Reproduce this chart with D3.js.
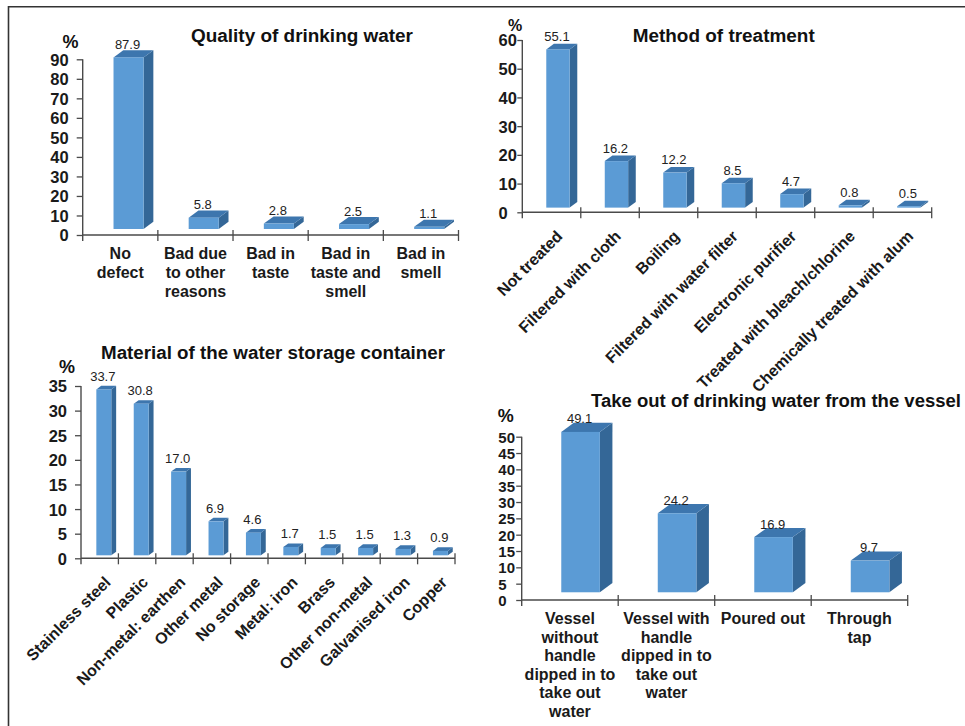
<!DOCTYPE html>
<html>
<head>
<meta charset="utf-8">
<script src="https://cdn.jsdelivr.net/npm/d3@7"></script>
<style>
  body { margin: 0; background: #fff; }
  svg { display: block; }
  text { font-family: "Liberation Sans", Arial, Helvetica, sans-serif; }
</style>
</head>
<body>
<svg id="fig" width="965" height="726"></svg>
<script>
// ---- Quality of drinking water ----
const qualityCategories = ["No\ndefect", "Bad due\nto other\nreasons", "Bad in\ntaste", "Bad in\ntaste and\nsmell", "Bad in\nsmell"];
const qualityValues = [87.9, 5.8, 2.8, 2.5, 1.1];
const qualityTicks = [0, 10, 20, 30, 40, 50, 60, 70, 80, 90];

// ---- Method of treatment ----
const treatmentCategories = ["Not treated", "Filtered with cloth", "Boiling", "Filtered with water filter",
  "Electronic purifier", "Treated with bleach/chlorine", "Chemically treated with alum"];
const treatmentValues = [55.1, 16.2, 12.2, 8.5, 4.7, 0.8, 0.5];
const treatmentTicks = [0, 10, 20, 30, 40, 50, 60];

// ---- Material of the water storage container ----
const materialCategories = ["Stainless steel", "Plastic", "Non-metal: earthen", "Other metal", "No storage",
  "Metal: iron", "Brass", "Other non-metal", "Galvanised iron", "Copper"];
const materialValues = [33.7, 30.8, 17.0, 6.9, 4.6, 1.7, 1.5, 1.5, 1.3, 0.9];
const materialTicks = [0, 5, 10, 15, 20, 25, 30, 35];

// ---- Take out of drinking water from the vessel ----
const takeOutCategories = ["Vessel\nwithout\nhandle\ndipped in to\ntake out\nwater",
  "Vessel with\nhandle\ndipped in to\ntake out\nwater", "Poured out", "Through\ntap"];
const takeOutValues = [49.1, 24.2, 16.9, 9.7];
const takeOutTicks = [0, 5, 10, 15, 20, 25, 30, 35, 40, 45, 50];

const svg = d3.select("#fig");
svg.append("rect").attr("width", 965).attr("height", 726).attr("fill", "#fff");

// outer frame (top and left edges)
svg.append("path").attr("d", "M8.5,726 V6.8 H965")
  .attr("fill", "none").attr("stroke", "#333").attr("stroke-width", 1.6);

const AXIS = "#4a4a4a";
const FRONT = "#5b9bd5", TOP = "#3d76ae", SIDE = "#346797";

const panels = [
  { title: "Quality of drinking water", categories: qualityCategories, values: qualityValues,
    ticks: qualityTicks, max: 90,
    x0: 82.7, x1: 458.5, yZero: 235, yTop: 59.3,
    titleX: 191, titleY: 41.7, titleW: 222,
    pctX: 70.5, pctY: 48, pctSize: 18,
    tickAlign: "end", tickLen: 6, tickPad: 8, tickFont: 16.5,
    labelMode: "wrap", labelY: 259.3, lineH: 18.6, labelFont: 16 },
  { title: "Method of treatment", categories: treatmentCategories, values: treatmentValues,
    ticks: treatmentTicks, max: 60,
    x0: 522.3, x1: 931.7, yZero: 212.3, yTop: 40,
    titleX: 632.7, titleY: 41.7, titleW: 182,
    pctX: 515, pctY: 31, pctSize: 16,
    tickAlign: "start", tickLeft: 498.5, tickLen: 5, tickFont: 16.5,
    labelMode: "rotate", labelFont: 16 },
  { title: "Material of the water storage container", categories: materialCategories, values: materialValues,
    ticks: materialTicks, max: 35,
    x0: 81, x1: 455, yZero: 558.3, yTop: 386,
    titleX: 101, titleY: 359.3, titleW: 344,
    pctX: 67, pctY: 373, pctSize: 18,
    tickAlign: "end", tickLen: 6, tickPad: 8, tickFont: 16.5,
    labelMode: "rotate", labelFont: 16 },
  { title: "Take out of drinking water from the vessel", categories: takeOutCategories, values: takeOutValues,
    ticks: takeOutTicks, max: 50,
    x0: 521.7, x1: 907.7, yZero: 600, yTop: 436.7,
    titleX: 591, titleY: 407, titleW: 370,
    pctX: 505.7, pctY: 422, pctSize: 18,
    tickAlign: "start", tickLeft: 498.3, tickLen: 5.5, tickFont: 15,
    labelMode: "wrap", labelY: 624, lineH: 18.5, labelFont: 16 }
];

panels.forEach(drawPanel);

function drawPanel(p) {
  const g = svg.append("g");
  const x = d3.scaleBand().domain(p.categories).range([p.x0, p.x1]).padding(0);
  const y = d3.scaleLinear().domain([0, p.max]).range([p.yZero, p.yTop]);
  const bw = x.bandwidth();
  // 3-D column geometry, proportional to the category width
  const barW = 0.4 * bw, dx = 0.13 * bw, dy = 0.095 * bw, sx = 0.11 * bw, sy = 0.08 * bw;

  // title
  g.append("text")
    .attr("x", p.titleX).attr("y", p.titleY)
    .attr("font-size", 18).attr("font-weight", "bold").attr("fill", "#111")
    .attr("textLength", p.titleW).attr("lengthAdjust", "spacingAndGlyphs")
    .text(p.title);

  // percent sign above the value axis
  g.append("text")
    .attr("x", p.pctX).attr("y", p.pctY).attr("text-anchor", "middle")
    .attr("font-size", p.pctSize).attr("font-weight", "bold").attr("fill", "#111")
    .text("%");

  // value axis
  const yAxis = d3.axisLeft(y).tickValues(p.ticks).tickSize(p.tickLen).tickSizeOuter(0)
    .tickPadding(p.tickPad || 1).tickFormat(d3.format("d"));
  const ga = g.append("g").attr("transform", `translate(${p.x0},0)`).call(yAxis);
  ga.select(".domain").remove();
  ga.selectAll(".tick line").attr("stroke", AXIS).attr("stroke-width", 1.3);
  const tt = ga.selectAll(".tick text")
    .attr("font-size", p.tickFont).attr("font-weight", "bold").attr("fill", "#1a1a1a")
    .attr("dy", "0.36em");
  if (p.tickAlign === "start") {
    tt.attr("text-anchor", "start").attr("x", p.tickLeft - p.x0);
  }
  g.append("line")
    .attr("x1", p.x0).attr("x2", p.x0)
    .attr("y1", y(p.max)).attr("y2", p.yZero + 6)
    .attr("stroke", AXIS).attr("stroke-width", 1.4);

  // category axis with ticks at the band boundaries
  g.append("line")
    .attr("x1", p.x0).attr("x2", p.x1)
    .attr("y1", p.yZero).attr("y2", p.yZero)
    .attr("stroke", AXIS).attr("stroke-width", 1.4);
  const bounds = p.categories.slice(1).map(c => x(c)).concat([x.range()[1]]);
  g.selectAll(".xtick").data(bounds).join("line")
    .attr("x1", d => d).attr("x2", d => d)
    .attr("y1", p.yZero - 5).attr("y2", p.yZero + 6)
    .attr("stroke", AXIS).attr("stroke-width", 1.3);

  // columns
  const bars = p.categories.map((c, i) => {
    const bx = x(c) + (bw - barW) / 2 + sx;
    return { c, v: p.values[i], bx, top: y(p.values[i]) - sy, bot: y(0) - sy };
  });
  const col = g.selectAll(".col").data(bars).join("g");
  col.append("polygon")
    .attr("points", d => [[d.bx + barW, d.top], [d.bx + barW + dx, d.top - dy],
      [d.bx + barW + dx, d.bot - dy], [d.bx + barW, d.bot]].join(" "))
    .attr("fill", SIDE);
  col.append("polygon")
    .attr("points", d => [[d.bx, d.top], [d.bx + dx, d.top - dy],
      [d.bx + barW + dx, d.top - dy], [d.bx + barW, d.top]].join(" "))
    .attr("fill", TOP);
  col.append("rect")
    .attr("x", d => d.bx).attr("y", d => d.top)
    .attr("width", barW).attr("height", d => Math.max(0, d.bot - d.top))
    .attr("fill", FRONT);

  // value labels
  g.selectAll(".val").data(bars).join("text")
    .attr("x", d => d.bx + barW / 2 - 1).attr("y", d => d.top - 8.5)
    .attr("text-anchor", "middle").attr("font-size", 13).attr("fill", "#222")
    .text(d => d3.format(".1f")(d.v));

  // category labels
  if (p.labelMode === "wrap") {
    const t = g.selectAll(".cat").data(p.categories).join("text")
      .attr("text-anchor", "middle").attr("font-size", p.labelFont)
      .attr("font-weight", "bold").attr("fill", "#1a1a1a");
    t.each(function (c) {
      const cx = x(c) + bw / 2;
      d3.select(this).selectAll("tspan").data(c.split("\n")).join("tspan")
        .attr("x", cx).attr("y", (d, k) => p.labelY + k * p.lineH).text(d => d);
    });
  } else {
    g.selectAll(".cat").data(p.categories).join("text")
      .attr("transform", c => `translate(${x(c) + bw / 2 + 8},${p.yZero + 21}) rotate(-45)`)
      .attr("text-anchor", "end").attr("dy", "0.35em")
      .attr("font-size", p.labelFont).attr("font-weight", "bold").attr("fill", "#1a1a1a")
      .text(c => c);
  }
}
</script>
</body>
</html>
